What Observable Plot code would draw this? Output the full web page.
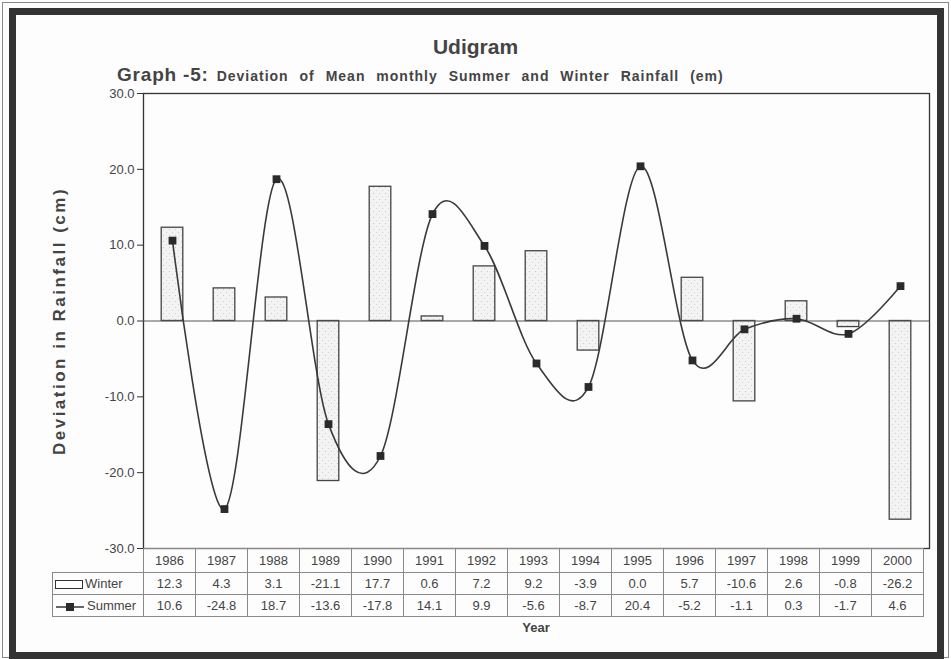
<!DOCTYPE html>
<html>
<head>
<meta charset="utf-8">
<script src="https://cdn.jsdelivr.net/npm/d3@7"></script>
<script src="https://cdn.jsdelivr.net/npm/@observablehq/plot@0.6"></script>
<style>
  html, body { margin: 0; padding: 0; background: #fff; }
  #page { position: relative; width: 951px; height: 659px; overflow: hidden; background: #fdfdfd;
          font-family: Arial, "Liberation Sans", sans-serif; color: #333; }
  .frame-thin { position: absolute; left: 2px; top: 2px; right: 2px; bottom: 1px; border: 1.5px solid #888; }
  .frame-thick { position: absolute; left: 9px; top: 8px; right: 7px; bottom: 0px; border: 7px solid #333; }
  #title { position: absolute; left: 0; width: 951px; top: 35px; text-align: center;
           font-weight: bold; font-size: 21px; color: #444; }
  #subtitle { position: absolute; left: 117px; top: 64px; font-weight: bold; color: #444; white-space: nowrap; }
  #subtitle .lead { font-size: 19px; letter-spacing: 0.8px; }
  #subtitle .rest { font-size: 14px; letter-spacing: 1px; word-spacing: 6px; margin-left: 8px; }
  #ylabel { position: absolute; left: 60px; top: 321px; transform: translate(-50%, -50%) rotate(-90deg);
            font-weight: bold; font-size: 17px; letter-spacing: 2.5px; color: #444; white-space: nowrap; }
  #chart { position: absolute; left: 0; top: 0; }
  #tbl { position: absolute; left: 52px; top: 548px; border-collapse: collapse; table-layout: fixed; }
  #tbl td { border: 1px solid #8a8a8a; padding: 0; text-align: center; font-size: 13px; color: #444;
            white-space: nowrap; overflow: hidden; }
  #tbl tr.years td { height: 23px; }
  #tbl tr.series td { height: 21px; }
  #tbl td.blank { border-left: none; border-top: none; }
  #tbl td.legend { text-align: left; padding-left: 2px; }
  .swatch-bar { display: inline-block; width: 26px; height: 7px; border: 1.3px solid #333; background: #fff;
                vertical-align: middle; margin-right: 2px; }
  .swatch-line { vertical-align: middle; margin-right: 2px; }
  #xlabel { position: absolute; left: 536px; top: 620px; transform: translateX(-50%);
            font-weight: bold; font-size: 13px; color: #444; }
</style>
</head>
<body>
<div id="page">
  <div class="frame-thin"></div>
  <div class="frame-thick"></div>
  <div id="title">Udigram</div>
  <div id="subtitle"><span class="lead">Graph -5:</span><span class="rest">Deviation of Mean monthly Summer and Winter Rainfall (em)</span></div>
  <div id="ylabel">Deviation in Rainfall (cm)</div>
  <div id="chart"></div>
  <table id="tbl"></table>
  <div id="xlabel">Year</div>
</div>
<script>
// Udigram: deviation of mean monthly rainfall (cm), 1986–2000
const years  = [1986, 1987, 1988, 1989, 1990, 1991, 1992, 1993, 1994, 1995, 1996, 1997, 1998, 1999, 2000];
const winter = [12.3, 4.3, 3.1, -21.1, 17.7, 0.6, 7.2, 9.2, -3.9, 0.0, 5.7, -10.6, 2.6, -0.8, -26.2];
const summer = [10.6, -24.8, 18.7, -13.6, -17.8, 14.1, 9.9, -5.6, -8.7, 20.4, -5.2, -1.1, 0.3, -1.7, 4.6];
const yTicks = [-30, -20, -10, 0, 10, 20, 30];

const rows = years.map((year, i) => ({year, winter: winter[i], summer: summer[i]}));

const plot = Plot.plot({
  width: 951,
  height: 659,
  marginTop: 93,
  marginLeft: 143,
  marginRight: 22,
  marginBottom: 111,
  style: {fontFamily: "Arial, 'Liberation Sans', sans-serif", fontSize: "13px", color: "#444", background: "transparent"},
  x: {domain: years, padding: 0, axis: null},
  y: {domain: [-30, 30]},
  marks: [
    Plot.frame({stroke: "#333", strokeWidth: 1.3}),
    Plot.axisY(yTicks, {tickFormat: d => d.toFixed(1), tickSize: 6, tickPadding: 3, label: null, stroke: "#333"}),
    Plot.barY(rows, {x: "year", y: "winter", fill: "url(#stipple)", stroke: "#444", strokeWidth: 1.3,
                     insetLeft: 15.2, insetRight: 15.2}),
    Plot.ruleY([0], {stroke: "#555", strokeWidth: 1}),
    Plot.line(rows, {x: "year", y: "summer", curve: "cardinal", tension: 0, stroke: "#3a3a3a", strokeWidth: 1.6}),
    Plot.dot(rows, {x: "year", y: "summer", symbol: "square", r: 4.4, fill: "#2a2a2a", stroke: "none"})
  ]
});

// light stippled fill for the winter bars
const ns = "http://www.w3.org/2000/svg";
const defs = document.createElementNS(ns, "defs");
defs.innerHTML = `
  <pattern id="stipple" width="6" height="6" patternUnits="userSpaceOnUse">
    <rect width="6" height="6" fill="#f3f3f3"></rect>
    <circle cx="1.5" cy="1.5" r="0.6" fill="#c4c4c4"></circle>
    <circle cx="4.5" cy="4.5" r="0.6" fill="#cfcfcf"></circle>
  </pattern>`;
plot.insertBefore(defs, plot.firstChild);
document.getElementById("chart").appendChild(plot);

// data table aligned to the x bands
const bw = plot.scale("x").bandwidth;
const tbl = document.getElementById("tbl");
const colgroup = document.createElement("colgroup");
colgroup.innerHTML = `<col style="width:91px">` + years.map(() => `<col style="width:${bw}px">`).join("");
tbl.appendChild(colgroup);
tbl.style.width = (91 + bw * years.length) + "px";

const fmt = v => v.toFixed(1);
const trYears = document.createElement("tr");
trYears.className = "years";
trYears.innerHTML = `<td class="blank"></td>` + years.map(y => `<td>${y}</td>`).join("");
tbl.appendChild(trYears);

const trW = document.createElement("tr");
trW.className = "series";
trW.innerHTML = `<td class="legend"><span class="swatch-bar"></span>Winter</td>` +
  winter.map(v => `<td>${fmt(v)}</td>`).join("");
tbl.appendChild(trW);

const trS = document.createElement("tr");
trS.className = "series";
trS.innerHTML = `<td class="legend"><svg class="swatch-line" width="30" height="10">
    <line x1="1" y1="5" x2="29" y2="5" stroke="#333" stroke-width="1.5"></line>
    <rect x="11" y="1" width="8" height="8" fill="#2a2a2a"></rect></svg>Summer</td>` +
  summer.map(v => `<td>${fmt(v)}</td>`).join("");
tbl.appendChild(trS);
</script>
</body>
</html>
